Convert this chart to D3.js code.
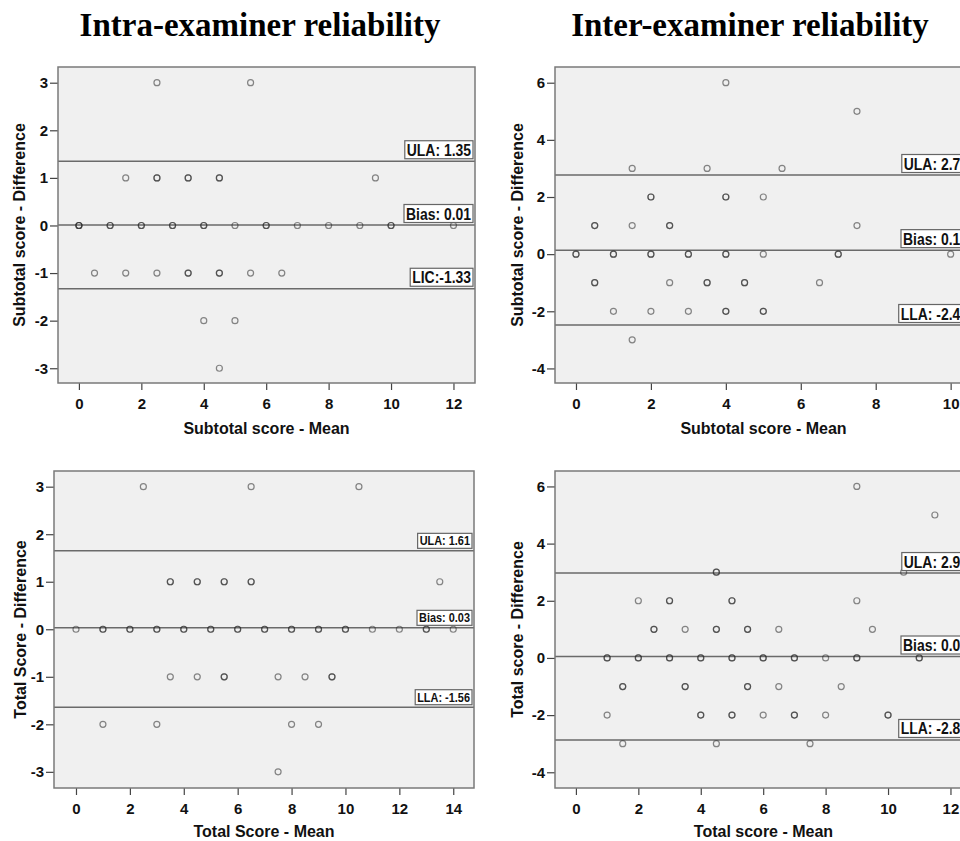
<!DOCTYPE html>
<html>
<head>
<meta charset="utf-8">
<script src="https://cdn.jsdelivr.net/npm/d3@7"></script>
<style>
  html, body { margin: 0; padding: 0; background: #fff; }
  svg { display: block; }
</style>
</head>
<body>
<svg id="chart" width="960" height="841"></svg>
<script>
// ---------------- DATA ----------------
// Each point: [mean, difference, number of overlapping observations]
const titles = ["Intra-examiner reliability", "Inter-examiner reliability"];

const intraSubtotalPoints = [
  [2.5, 3, 1], [5.5, 3, 1],
  [1.5, 1, 1], [2.5, 1, 2], [3.5, 1, 2], [4.5, 1, 2], [9.5, 1, 1],
  [0, 0, 3], [1, 0, 2], [2, 0, 2], [3, 0, 2], [4, 0, 2], [5, 0, 1], [6, 0, 2],
  [7, 0, 1], [8, 0, 1], [9, 0, 1], [10, 0, 2], [12, 0, 1],
  [0.5, -1, 1], [1.5, -1, 1], [2.5, -1, 1], [3.5, -1, 2], [4.5, -1, 2], [5.5, -1, 1], [6.5, -1, 1],
  [4, -2, 1], [5, -2, 1],
  [4.5, -3, 1]
];
const interSubtotalPoints = [
  [4, 6, 1], [7.5, 5, 1],
  [1.5, 3, 1], [3.5, 3, 1], [5.5, 3, 1],
  [2, 2, 2], [4, 2, 2], [5, 2, 1],
  [0.5, 1, 2], [1.5, 1, 1], [2.5, 1, 2], [7.5, 1, 1],
  [0, 0, 2], [1, 0, 2], [2, 0, 2], [3, 0, 2], [4, 0, 2], [5, 0, 1], [7, 0, 2], [10, 0, 1],
  [0.5, -1, 2], [2.5, -1, 1], [3.5, -1, 2], [4.5, -1, 2], [6.5, -1, 1],
  [1, -2, 1], [2, -2, 1], [3, -2, 1], [4, -2, 2], [5, -2, 2],
  [1.5, -3, 1]
];
const intraTotalPoints = [
  [2.5, 3, 1], [6.5, 3, 1], [10.5, 3, 1],
  [3.5, 1, 2], [4.5, 1, 2], [5.5, 1, 2], [6.5, 1, 2], [13.5, 1, 1],
  [0, 0, 1], [1, 0, 2], [2, 0, 2], [3, 0, 2], [4, 0, 2], [5, 0, 2], [6, 0, 2], [7, 0, 2],
  [8, 0, 2], [9, 0, 2], [10, 0, 2], [11, 0, 1], [12, 0, 1], [13, 0, 2], [14, 0, 1],
  [3.5, -1, 1], [4.5, -1, 1], [5.5, -1, 2], [7.5, -1, 1], [8.5, -1, 1], [9.5, -1, 2],
  [1, -2, 1], [3, -2, 1], [8, -2, 1], [9, -2, 1],
  [7.5, -3, 1]
];
const interTotalPoints = [
  [9, 6, 1], [11.5, 5, 1],
  [4.5, 3, 2], [10.5, 3, 1],
  [2, 2, 1], [3, 2, 2], [5, 2, 2], [9, 2, 1],
  [2.5, 1, 2], [3.5, 1, 1], [4.5, 1, 2], [5.5, 1, 2], [6.5, 1, 1], [9.5, 1, 1],
  [1, 0, 2], [2, 0, 2], [3, 0, 2], [4, 0, 2], [5, 0, 2], [6, 0, 2], [7, 0, 2], [8, 0, 1], [9, 0, 2], [11, 0, 2],
  [1.5, -1, 2], [3.5, -1, 2], [5.5, -1, 2], [6.5, -1, 1], [8.5, -1, 1],
  [1, -2, 1], [4, -2, 2], [5, -2, 2], [6, -2, 1], [7, -2, 2], [8, -2, 1], [10, -2, 2],
  [1.5, -3, 1], [4.5, -3, 1], [7.5, -3, 1]
];

// Limit lines: [label, value where line is drawn]
const intraSubtotalLines = [["ULA: 1.35", 1.35], ["Bias: 0.01", 0.01], ["LIC:-1.33", -1.33]];
const interSubtotalLines = [["ULA: 2.77", 2.77], ["Bias: 0.15", 0.14], ["LLA: -2.48", -2.48]];
const intraTotalLines    = [["ULA: 1.61", 1.65], ["Bias: 0.03", 0.03], ["LLA: -1.56", -1.64]];
const interTotalLines    = [["ULA: 2.97", 2.97], ["Bias: 0.05", 0.05], ["LLA: -2.87", -2.87]];

// Tick values
const xTicksSubtotalIntra = [0, 2, 4, 6, 8, 10, 12];
const xTicksSubtotalInter = [0, 2, 4, 6, 8, 10];
const xTicksTotalIntra = [0, 2, 4, 6, 8, 10, 12, 14];
const xTicksTotalInter = [0, 2, 4, 6, 8, 10, 12];
const yTicksIntra = [-3, -2, -1, 0, 1, 2, 3];
const yTicksInter = [-4, -2, 0, 2, 4, 6];

const xLabels = ["Subtotal score - Mean", "Subtotal score - Mean", "Total Score - Mean", "Total score - Mean"];
const yLabels = ["Subtotal score - Difference", "Subtotal score - Difference", "Total Score - Difference", "Total score - Difference"];

// ---------------- LAYOUT ----------------
const panels = [
  { pts: intraSubtotalPoints, lines: intraSubtotalLines, xt: xTicksSubtotalIntra, yt: yTicksIntra,
    xl: xLabels[0], yl: yLabels[0],
    box: { l: 58, r: 475, t: 67, b: 383 }, xd: [-0.67, 12.69], yd: [-3.31, 3.33],
    ylx: 25, xlb: 434, lf: 16, squeeze: 0.87 },
  { pts: interSubtotalPoints, lines: interSubtotalLines, xt: xTicksSubtotalInter, yt: yTicksInter,
    xl: xLabels[1], yl: yLabels[1],
    box: { l: 555, r: 972, t: 67, b: 383 }, xd: [-0.56, 10.57], yd: [-4.51, 6.55],
    ylx: 523, xlb: 434, lf: 16, squeeze: 0.87 },
  { pts: intraTotalPoints, lines: intraTotalLines, xt: xTicksTotalIntra, yt: yTicksIntra,
    xl: xLabels[2], yl: yLabels[2],
    box: { l: 54, r: 474, t: 471, b: 788 }, xd: [-0.816, 14.77], yd: [-3.34, 3.33],
    ylx: 26, xlb: 837, lf: 13, squeeze: 0.84 },
  { pts: interTotalPoints, lines: interTotalLines, xt: xTicksTotalInter, yt: yTicksInter,
    xl: xLabels[3], yl: yLabels[3],
    box: { l: 555, r: 972, t: 471, b: 788 }, xd: [-0.67, 12.69], yd: [-4.55, 6.54],
    ylx: 523, xlb: 837, lf: 16, squeeze: 0.87 }
];

const svg = d3.select("#chart");
const SANS = "Arial, 'Liberation Sans', Helvetica, sans-serif";
const SERIF = "'Times New Roman', 'Liberation Serif', serif";

// Titles
[[260, titles[0]], [750, titles[1]]].forEach(([cx, t]) => {
  svg.append("text").attr("x", cx).attr("y", 36).attr("text-anchor", "middle")
    .attr("font-family", SERIF).attr("font-weight", "bold").attr("font-size", 33)
    .attr("fill", "#000").text(t);
});

panels.forEach(p => {
  const b = p.box;
  const x = d3.scaleLinear().domain(p.xd).range([b.l, b.r]);
  const y = d3.scaleLinear().domain(p.yd).range([b.b, b.t]);
  const g = svg.append("g");

  g.append("rect").attr("x", b.l).attr("y", b.t).attr("width", b.r - b.l).attr("height", b.b - b.t)
    .attr("fill", "#f0f0f0");

  // Axes
  const fmt = d => String(d);
  const xa = g.append("g").attr("transform", `translate(0,${b.b})`)
    .call(d3.axisBottom(x).tickValues(p.xt).tickSize(7).tickPadding(8).tickFormat(fmt));
  const ya = g.append("g").attr("transform", `translate(${b.l},0)`)
    .call(d3.axisLeft(y).tickValues(p.yt).tickSize(8).tickPadding(2).tickFormat(fmt));
  [xa, ya].forEach(a => {
    a.attr("font-family", SANS).attr("font-size", 15).attr("font-weight", "bold");
    a.select(".domain").remove();
    a.selectAll(".tick line").attr("stroke", "#444").attr("stroke-width", 1.2);
    a.selectAll(".tick text").attr("fill", "#111");
  });

  // Limit lines
  g.selectAll("line.lim").data(p.lines).enter().append("line")
    .attr("x1", b.l).attr("x2", b.r)
    .attr("y1", d => y(d[1])).attr("y2", d => y(d[1]))
    .attr("stroke", "#6a6a6a").attr("stroke-width", 1.5);

  // Points
  const expanded = [];
  p.pts.forEach(d => { for (let i = 0; i < d[2]; i++) expanded.push(d); });
  g.selectAll("circle.pt").data(expanded).enter().append("circle")
    .attr("cx", d => x(d[0])).attr("cy", d => y(d[1])).attr("r", 3)
    .attr("fill", "none").attr("stroke", "#2a2a2a").attr("stroke-opacity", 0.55).attr("stroke-width", 1.2);

  // Labels with boxes
  p.lines.forEach(d => {
    const ly = y(d[1]);
    const t = g.append("text")
      .attr("font-family", SANS).attr("font-weight", "bold").attr("font-size", p.lf)
      .attr("fill", "#111").text(d[0]);
    const natural = t.node().getComputedTextLength();
    const w = natural * p.squeeze;
    t.attr("textLength", w).attr("lengthAdjust", "spacingAndGlyphs");
    const pad = 2;
    const boxR = b.r - 2;
    const boxB = ly - 2.5;
    const h = p.lf + 2;
    const bx = boxR - w - 2 * pad;
    g.insert("rect", () => t.node())
      .attr("x", bx).attr("y", boxB - h).attr("width", w + 2 * pad).attr("height", h)
      .attr("fill", "#fff").attr("stroke", "#666").attr("stroke-width", 1.2);
    t.attr("x", bx + pad).attr("y", boxB - 3);
  });

  // Frame
  g.append("rect").attr("x", b.l).attr("y", b.t).attr("width", b.r - b.l).attr("height", b.b - b.t)
    .attr("fill", "none").attr("stroke", "#7a7a7a").attr("stroke-width", 1.5);

  // Axis titles
  g.append("text").attr("x", (b.l + b.r) / 2).attr("y", p.xlb).attr("text-anchor", "middle")
    .attr("font-family", SANS).attr("font-weight", "bold").attr("font-size", 16)
    .attr("fill", "#111").text(p.xl);
  g.append("text").attr("transform", `translate(${p.ylx},${(b.t + b.b) / 2}) rotate(-90)`)
    .attr("text-anchor", "middle")
    .attr("font-family", SANS).attr("font-weight", "bold").attr("font-size", 16)
    .attr("fill", "#111").text(p.yl);
});
</script>
</body>
</html>
